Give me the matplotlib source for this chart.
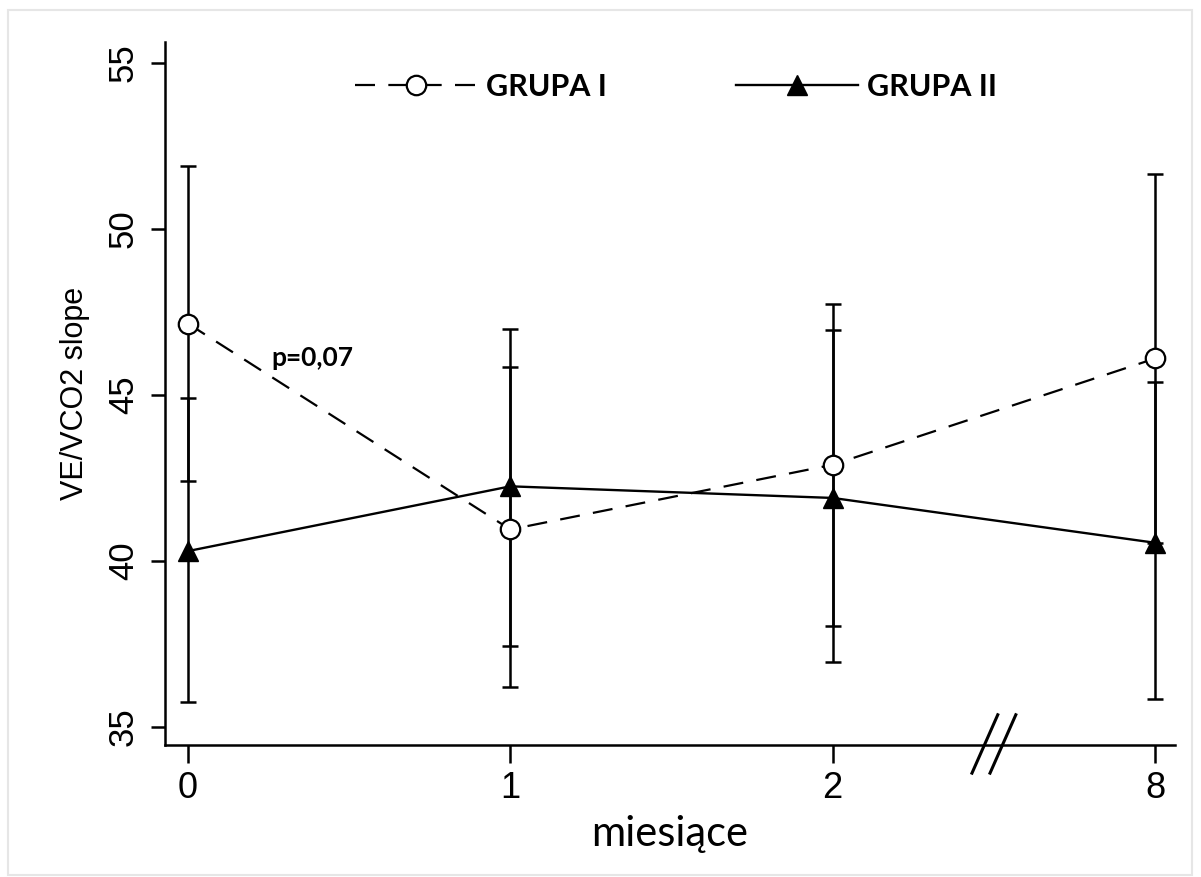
import matplotlib
matplotlib.use("Agg")
import matplotlib.pyplot as plt
from matplotlib.patches import Rectangle

# months of follow-up (categorical positions, axis is broken between 2 and 8)
months = ["0", "1", "2", "8"]

# GRUPA I  (dashed, open circles)
g1_mean = [47.15, 40.95, 42.9, 46.1]
g1_low = [42.4, 36.2, 38.05, 40.55]
g1_high = [51.9, 45.85, 47.75, 51.65]

# GRUPA II (solid, filled triangles)
g2_mean = [40.3, 42.25, 41.9, 40.55]
g2_low = [35.75, 37.45, 36.95, 35.85]
g2_high = [44.9, 47.0, 46.95, 45.4]

p_text = "p=0,07"

plt.rcParams["font.family"] = ["Liberation Sans", "DejaVu Sans"]

fig = plt.figure(figsize=(12.01, 8.77), dpi=100)
fig.patch.set_facecolor("white")
ax = fig.add_axes([0.1374, 0.1505, 0.841, 0.8016])

x = list(range(len(months)))

# error bars first, then lines on top
for mean, lo, hi in [(g1_mean, g1_low, g1_high), (g2_mean, g2_low, g2_high)]:
    yerr = [[m - l for m, l in zip(mean, lo)], [h - m for m, h in zip(mean, hi)]]
    ax.errorbar(x, mean, yerr=yerr, fmt="none", ecolor="black", elinewidth=1.8,
                capsize=5.5, capthick=1.8, zorder=2)

l1, = ax.plot(x, g1_mean, color="black", linewidth=1.6, dashes=(9, 6),
              marker="o", markersize=14, markerfacecolor="white",
              markeredgecolor="black", markeredgewidth=1.6, label="GRUPA I", zorder=3)
l2, = ax.plot(x, g2_mean, color="black", linewidth=1.7,
              marker="^", markersize=14, markerfacecolor="black",
              markeredgecolor="black", label="GRUPA II", zorder=3)

ax.set_xlim(-0.0713, 3.062)
ax.set_ylim(34.46, 55.63)
ax.set_xticks(x)
ax.set_xticklabels(months)
ax.set_yticks([35, 40, 45, 50, 55])

for side in ["top", "right"]:
    ax.spines[side].set_visible(False)
for side in ["left", "bottom"]:
    ax.spines[side].set_linewidth(1.8)

ax.tick_params(axis="x", length=13, width=1.8, pad=6, labelsize=26)
ax.tick_params(axis="y", length=10, width=1.8, pad=8, labelsize=25, labelrotation=90)
for lbl in ax.get_yticklabels():
    lbl.set_va("center")

ax.set_ylabel("VE/VCO2 slope", fontsize=22, labelpad=12)
ax.set_xlabel("miesiące", fontsize=30, family=["Lato", "DejaVu Sans"], labelpad=6)

ax.text(0.26, 45.88, p_text, fontsize=19, fontweight="bold",
        family=["Lato", "DejaVu Sans"], ha="left", va="baseline")

# axis break marks between "2" and "8"
brk = ax.get_xaxis_transform()
for off in (-0.028, 0.028):
    ax.plot([2.5 + off - 0.04, 2.5 + off + 0.04], [-0.04, 0.043], color="black",
            linewidth=2.2, transform=brk, clip_on=False)

leg = ax.legend(handles=[l1, l2], loc="center", bbox_to_anchor=(0.506, 0.936),
                ncol=2, frameon=False, handlelength=4.0, handletextpad=0.3,
                columnspacing=4.2, prop={"family": ["Lato", "DejaVu Sans"],
                                         "weight": "bold", "size": 22})

# faint outer border of the original picture
fig.patches.append(Rectangle((8 / 1201, 2 / 877), 1184 / 1201, 865 / 877,
                             transform=fig.transFigure, fill=False,
                             edgecolor="#e6e6e6", linewidth=1.5))

fig.savefig("out.png", dpi=100)
